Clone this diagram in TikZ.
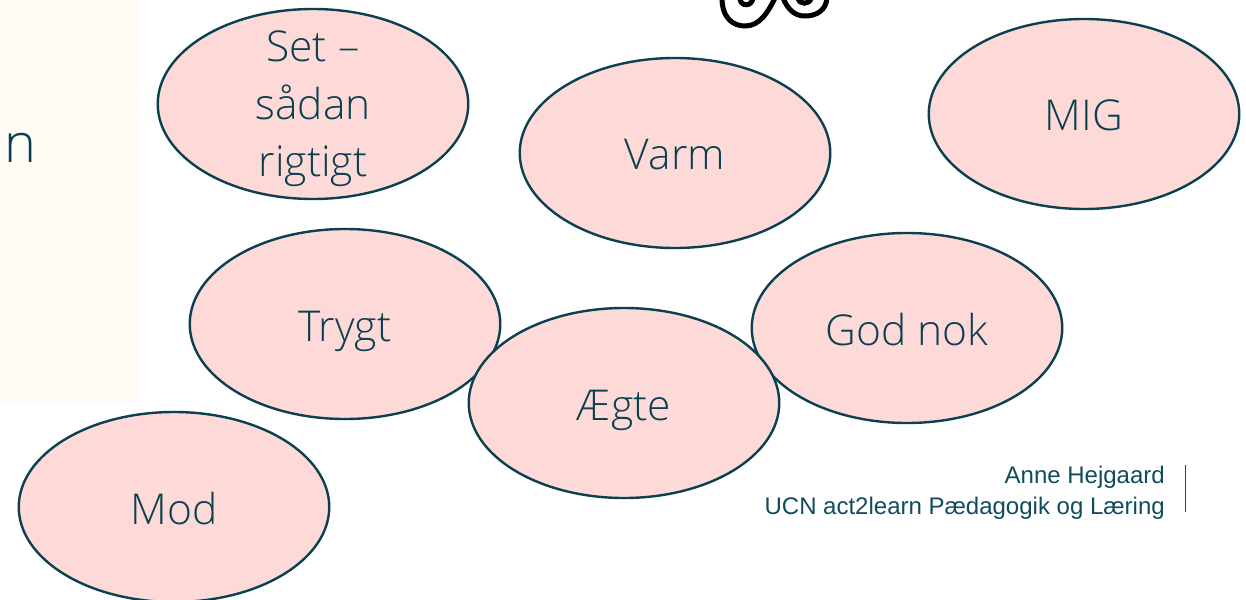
\documentclass[tikz,border=0pt]{standalone}
\usepackage{fontspec}
\setmainfont{Open Sans Light}
\newfontfamily\footfont{Liberation Sans}
\definecolor{inkteal}{HTML}{0B4050}
\definecolor{footteal}{HTML}{0F4C5C}
\definecolor{bubble}{HTML}{FDD9D7}
\definecolor{cream}{HTML}{FFFCF5}
\usetikzlibrary{shapes.geometric}
\newcommand\bubtext[1]{\raisebox{-17pt}{#1}}
\tikzset{
  bubblenode/.style={ellipse,draw=inkteal,fill=bubble,line width=2.4pt,minimum width=310.5pt,minimum height=190pt,inner sep=0pt,text height=0pt,text depth=0pt,text=inkteal,font=\fontsize{42.5}{57.5}\selectfont},
  settext/.style={inner sep=0pt,text=inkteal,font=\fontsize{42.5}{57.5}\selectfont,align=center},
  footnode/.style={anchor=east,text=footteal,inner sep=0pt,font=\footfont\fontsize{24}{30}\selectfont},
  curl/.style={draw=black,line width=5pt,line cap=round}
}
\begin{document}
\begin{tikzpicture}[x=1pt,y=-1pt]
\useasboundingbox (0,0) rectangle (1246,599);
\clip (0,0) rectangle (1246,599);
\fill[white] (0,0) rectangle (1246,599);
\fill[cream] (0,0) rectangle (139,402);
\node[anchor=base west,inner sep=0pt,text=inkteal,font=\fontsize{54}{60}\selectfont] (cutn) at (4,162) {n};
\draw[curl] (722,-2) .. controls (722,18) and (733,26) .. (745,26) .. controls (760,26) and (768,12) .. (775,-2);
\draw[curl] (783,-2) .. controls (788,10) and (795,16) .. (805,16) .. controls (817,16) and (826,10) .. (827,-2);
\draw[curl] (740,-2) .. controls (740,7) and (752,7) .. (753,-2);
\draw[curl] (798,-2) .. controls (799,5) and (810,5) .. (811,-2);
\node[bubblenode] (setn) at (313,104) {};
\node[settext] (settxt) at (313,109) {Set --\\sådan\\rigtigt};
\node[bubblenode] (varm) at (675,153) {\bubtext{Varm}};
\node[bubblenode] (mig) at (1084,114) {\bubtext{MIG}};
\node[bubblenode] (trygt) at (345,324) {\bubtext{Trygt}};
\node[bubblenode] (god) at (907,328) {\bubtext{God nok}};
\node[bubblenode] (aegte) at (624,403) {\bubtext{Ægte}};
\node[bubblenode] (mod) at (174,507) {\bubtext{Mod}};
\node[footnode] (anne) at (1165,477) {Anne Hejgaard};
\node[footnode] (ucn) at (1165,508) {UCN act2learn Pædagogik og Læring};
\coordinate (barT) at (1185.5,465);
\coordinate (barB) at (1185.5,512);
\draw[footteal,line width=1.2pt] (barT) -- (barB);
\end{tikzpicture}
\end{document}
